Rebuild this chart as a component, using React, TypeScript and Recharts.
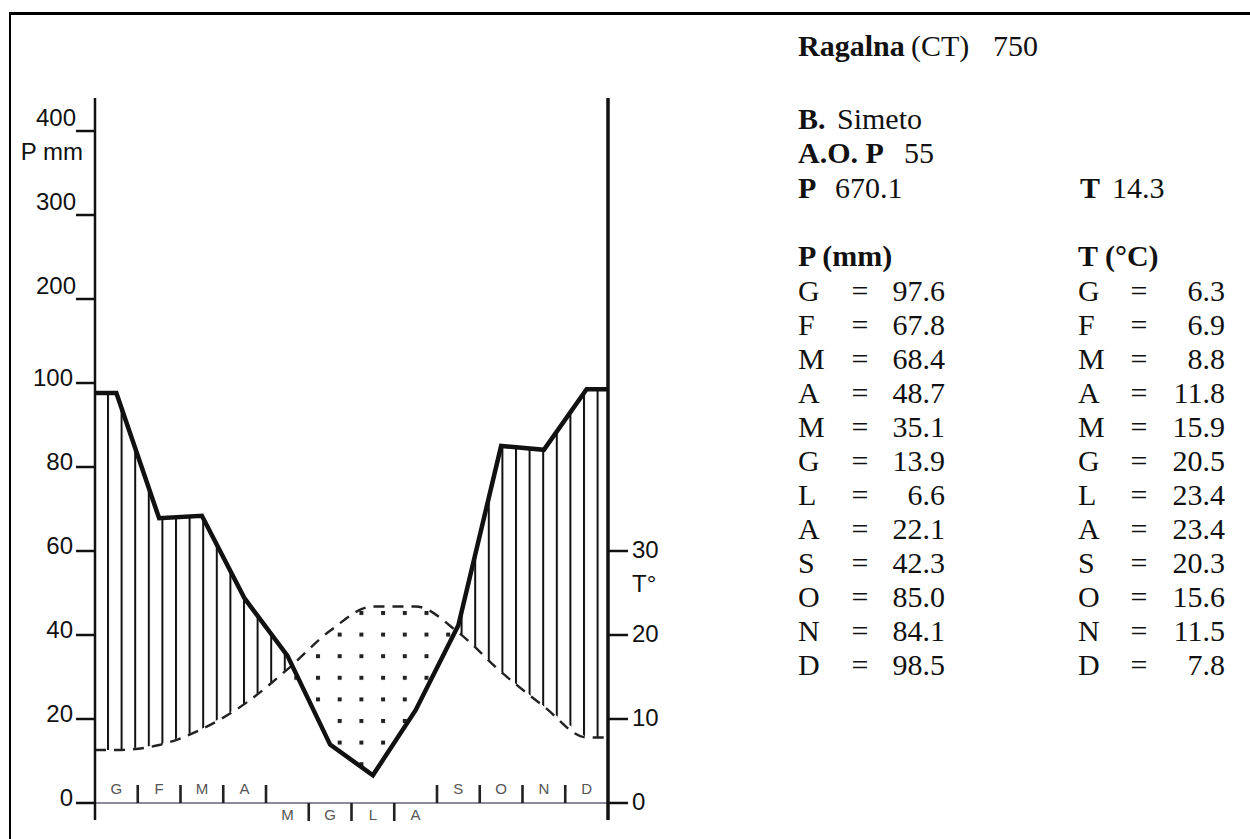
import React from 'react';
import {
  ComposedChart,
  Area,
  Line,
  XAxis,
  YAxis,
  ReferenceLine,
} from 'recharts';

// Ragalna (CT), 750 m — monthly means, months in Italian initials
const months = ['G', 'F', 'M', 'A', 'M', 'G', 'L', 'A', 'S', 'O', 'N', 'D'];
const precip = [97.6, 67.8, 68.4, 48.7, 35.1, 13.9, 6.6, 22.1, 42.3, 85.0, 84.1, 98.5];
const temp = [6.3, 6.9, 8.8, 11.8, 15.9, 20.5, 23.4, 23.4, 20.3, 15.6, 11.5, 7.8];
// months whose initial sits under the baseline (dry season)
const dryMonths = [false, false, false, false, true, true, true, true, false, false, false, false];

const pTicks = [0, 20, 40, 60, 80, 100, 120, 140, 160];
const tTicks = [0, 10, 20, 30];

const station = { name: 'Ragalna', prov: '(CT)', alt: '750', basin: 'Simeto', years: '55' };
const annualP = '670.1';
const annualT = '14.3';

// above 100 mm the scale is compressed 1:5
const pLabel = (v: number) => (v <= 100 ? v : 100 + (v - 100) * 5);

// chart rows: flat ends at the axes, then one point per month centre
const rows = [
  { x: 0, p: precip[0], t: temp[0] },
  ...months.map((_, i) => ({ x: i + 0.5, p: precip[i], t: temp[i] })),
  { x: 12, p: precip[11], t: temp[11] },
].map((r) => ({ ...r, low: Math.min(r.p / 2, r.t) }));

const xTicks = Array.from({ length: 23 }, (_, i) => 0.5 + i * 0.5);

const SANS = '"Liberation Sans", Arial, sans-serif';
const SERIF = '"Liberation Serif", "Times New Roman", serif';
const INK = '#111';

const PTick = (props: any) => {
  const { x, payload } = props;
  const v = payload.value;
  const y = payload.coordinate;
  const compressed = v > 100;
  return (
    <g>
      <text
        x={compressed ? x + 3 : x}
        y={y + (compressed ? -5 : 3)}
        textAnchor="end"
        fontSize={24}
        fontFamily={SANS}
        fill={INK}
      >
        {pLabel(v)}
      </text>
      {v === 160 && (
        <text x={83} y={y + 29} textAnchor="end" fontSize={24} fontFamily={SANS} fill={INK}>
          P mm
        </text>
      )}
    </g>
  );
};

const TTick = (props: any) => {
  const { x, payload } = props;
  const y = payload.coordinate;
  return (
    <g>
      <text x={x} y={y + 7} fontSize={24} fontFamily={SANS} fill={INK}>
        {payload.value}
      </text>
      {payload.value === 30 && (
        <text x={x} y={y + 41} fontSize={24} fontFamily={SANS} fill={INK}>
          T°
        </text>
      )}
    </g>
  );
};

const MonthTick = (props: any) => {
  const { x, y, payload } = props;
  const v = payload.value as number;
  const zeroY = y - 17;
  if (Number.isInteger(v)) {
    const below = dryMonths[v - 1] && dryMonths[v];
    return <rect x={x - 1.3} y={below ? zeroY : zeroY - 18} width={2.6} height={18} fill="#222" />;
  }
  const i = Math.floor(v);
  return (
    <text
      x={x}
      y={dryMonths[i] ? zeroY + 17 : zeroY - 9}
      textAnchor="middle"
      fontSize={15}
      fontFamily={SANS}
      fill="#555"
    >
      {months[i]}
    </text>
  );
};

function ClimateChart() {
  return (
    <ComposedChart
      width={760}
      height={839}
      data={rows}
      margin={{ top: 98, right: 151, bottom: 18, left: 94 }}
      style={{ position: 'absolute', left: 0, top: 0 }}
    >
      <defs>
        <pattern id="hatch" patternUnits="userSpaceOnUse" x={107} y={0} width={13.6} height={20}>
          <rect x={0} y={0} width={2} height={20} fill={INK} />
        </pattern>
        <pattern id="dots" patternUnits="userSpaceOnUse" x={316} y={611} width={21.7} height={21.6}>
          <rect x={0} y={0} width={21.7} height={21.6} fill="#fff" />
          <rect x={0} y={0} width={4} height={4} fill="#222" />
        </pattern>
      </defs>
      {/* humid period: hatch under the rain curve */}
      <Area
        yAxisId="p"
        dataKey="p"
        type="linear"
        baseValue={0}
        stroke="none"
        fill="url(#hatch)"
        fillOpacity={1}
        isAnimationActive={false}
      />
      {/* dry period: dots under the temperature curve */}
      <Area
        yAxisId="t"
        dataKey="t"
        type="monotone"
        baseValue={0}
        stroke="none"
        fill="url(#dots)"
        fillOpacity={1}
        isAnimationActive={false}
      />
      {/* clear everything below the lower of the two curves */}
      <Area
        yAxisId="t"
        dataKey="low"
        type="linear"
        baseValue={0}
        stroke="none"
        fill="#fff"
        fillOpacity={1}
        isAnimationActive={false}
      />
      <ReferenceLine yAxisId="p" y={0} stroke="#667" strokeWidth={1.5} />
      <XAxis
        type="number"
        dataKey="x"
        domain={[0, 12]}
        ticks={xTicks}
        interval={0}
        height={1}
        axisLine={false}
        tickLine={false}
        tickSize={0}
        tickMargin={0}
        tick={<MonthTick />}
      />
      <YAxis
        yAxisId="p"
        type="number"
        domain={[-4.05, 167.86]}
        ticks={pTicks}
        interval={0}
        width={1}
        tickSize={19}
        tickMargin={3}
        axisLine={{ stroke: INK, strokeWidth: 2.5 }}
        tickLine={{ stroke: INK, strokeWidth: 2.5 }}
        tick={<PTick />}
      />
      <YAxis
        yAxisId="t"
        orientation="right"
        type="number"
        domain={[-2.025, 83.93]}
        ticks={tTicks}
        interval={0}
        width={1}
        tickSize={20}
        tickMargin={4}
        axisLine={{ stroke: INK, strokeWidth: 3.5 }}
        tickLine={{ stroke: INK, strokeWidth: 2.5 }}
        tick={<TTick />}
      />
      <Line
        yAxisId="t"
        dataKey="t"
        type="monotone"
        stroke="#222"
        strokeWidth={2.4}
        strokeDasharray="11 8"
        dot={false}
        isAnimationActive={false}
      />
      <Line
        yAxisId="p"
        dataKey="p"
        type="linear"
        stroke={INK}
        strokeWidth={4.5}
        dot={false}
        isAnimationActive={false}
      />
    </ComposedChart>
  );
}

function InfoPanel() {
  const y0 = 301;
  const step = 34;
  return (
    <svg width={1250} height={839} style={{ position: 'absolute', left: 0, top: 0 }} fontFamily={SERIF} fill={INK}>
      <text x={798} y={56} fontSize={30}>
        <tspan fontWeight="bold">{station.name}</tspan>
        <tspan x={911}>{station.prov}</tspan>
        <tspan x={993}>{station.alt}</tspan>
      </text>
      <text x={798} y={129} fontSize={30}>
        <tspan fontWeight="bold">B.</tspan>
        <tspan x={837}>{station.basin}</tspan>
      </text>
      <text x={798} y={163} fontSize={30}>
        <tspan fontWeight="bold">A.O. P</tspan>
        <tspan x={904}>{station.years}</tspan>
      </text>
      <text x={798} y={198} fontSize={30}>
        <tspan fontWeight="bold">P</tspan>
        <tspan x={835}>{annualP}</tspan>
      </text>
      <text x={1080} y={198} fontSize={30}>
        <tspan fontWeight="bold">T</tspan>
        <tspan x={1112}>{annualT}</tspan>
      </text>
      <text x={798} y={266} fontSize={30} fontWeight="bold">P (mm)</text>
      <text x={1078} y={266} fontSize={30} fontWeight="bold">T (°C)</text>
      {months.map((m, i) => {
        const y = y0 + i * step;
        return (
          <g key={i} fontSize={30}>
            <text x={798} y={y}>{m}</text>
            <text x={860} y={y} textAnchor="middle">=</text>
            <text x={945} y={y} textAnchor="end">{precip[i].toFixed(1)}</text>
            <text x={1078} y={y}>{m}</text>
            <text x={1139} y={y} textAnchor="middle">=</text>
            <text x={1225} y={y} textAnchor="end">{temp[i].toFixed(1)}</text>
          </g>
        );
      })}
    </svg>
  );
}

export default function App() {
  return (
    <div
      style={{
        position: 'absolute',
        left: 0,
        top: 0,
        width: 1250,
        height: 839,
        overflow: 'hidden',
        background: '#fff',
      }}
    >
      <div
        style={{
          position: 'absolute',
          left: 9,
          top: 12,
          width: 1300,
          height: 900,
          borderLeft: '2.5px solid #000',
          borderTop: '3px solid #000',
        }}
      />
      <ClimateChart />
      <InfoPanel />
    </div>
  );
}
